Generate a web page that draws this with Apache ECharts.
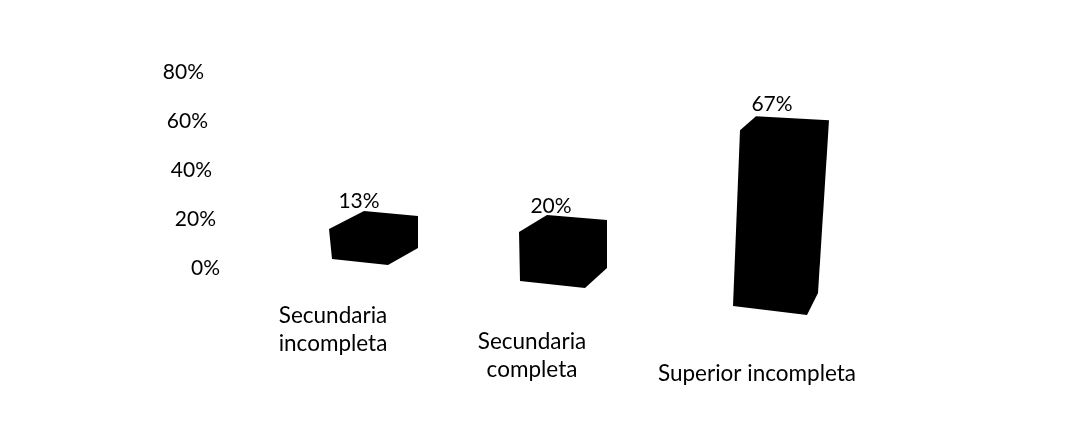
<!DOCTYPE html>
<html>
<head>
<meta charset="utf-8">
<style>html,body{margin:0;padding:0;background:#fff}#c{width:1085px;height:436px}</style>
<script src="https://cdn.jsdelivr.net/npm/echarts@6/dist/echarts.min.js"></script>
</head>
<body>
<div id="c"></div>
<script>
const categories = ['Secundaria\nincompleta', 'Secundaria\ncompleta', 'Superior incompleta'];
const values = [13, 20, 67];
const yTicks = [0, 20, 40, 60, 80];

// Camera of the skewed 3D scan: per-category projection, not data
const view = [
  {shift: -28, drop: -9, scale: 0.94, width: 56, lean: -3, slope: 6, back: [35, -18], tr: [33, -19], br: [30, -17], labelX: 30, labelY: -10},
  {shift: -45, drop: 13, scale: 1.00, width: 65, lean: -1, slope: 7, back: [28, -17], tr: [23, -19], br: [22, -20], labelX: 32, labelY: -9},
  {shift: -37, drop: 38, scale: 1.07, width: 74, lean: 7, slope: 9, back: [16, -14], tr: [15, -19], br: [11, -22], labelX: 32, labelY: -12}
];
const FONT = 'Lato, "Open Sans", sans-serif';
const INK = '#000';

function renderBar(params, api) {
  const i = api.value(0), v = api.value(1), p = view[i];
  const base = api.coord([i, 0]), top = api.coord([i, v]);
  const h = (base[1] - top[1]) * p.scale;
  const bl = [base[0] + p.shift, base[1] + p.drop];
  const fr = [bl[0] + p.width, bl[1] + p.slope];
  const lt = [bl[0] + p.lean, bl[1] - h];
  const ftr = [fr[0] + p.lean, fr[1] - h];
  const back = [lt[0] + p.back[0], lt[1] + p.back[1]];
  const tr = [ftr[0] + p.tr[0], ftr[1] + p.tr[1]];
  const br = [fr[0] + p.br[0], fr[1] + p.br[1]];
  return {
    type: 'group',
    children: [
      {type: 'polygon', shape: {points: [bl, lt, back, tr, br, fr]}, style: {fill: '#000'}},
      {type: 'text', style: {
        text: v + '%', x: lt[0] + p.labelX, y: back[1] + p.labelY,
        align: 'center', verticalAlign: 'middle',
        font: '21px ' + FONT, fill: INK
      }}
    ]
  };
}

const yPad = {0: 0, 20: 4, 40: 8, 60: 12, 80: 16};
const xTop = [0, 26, 58], xRight = [54, 66, 26];
const rich = {};
yTicks.forEach(t => { rich['y' + t] = {fontFamily: FONT, fontSize: 21, color: INK, padding: [0, yPad[t], 0, 0]}; });
categories.forEach((c, i) => {
  rich['s' + i] = {fontSize: 4, lineHeight: xTop[i]};
  rich['a' + i] = {fontFamily: FONT, fontSize: 22.5, color: INK, lineHeight: 28, padding: [0, xRight[i], 0, 0]};
});

const chart = echarts.init(document.getElementById('c'), null, {renderer: 'canvas'});
chart.setOption({
  animation: false,
  backgroundColor: '#fff',
  grid: {left: 257.5, right: 212.5, top: 72, bottom: 168},
  xAxis: {
    type: 'category', data: categories,
    axisLine: {show: false}, axisTick: {show: false},
    axisLabel: {
      interval: 0, margin: 34, verticalAlign: 'top', rich,
      formatter: (val, idx) => {
        const lines = val.split('\n').map(l => '{a' + idx + '|' + l + '}');
        if (xTop[idx]) lines.unshift('{s' + idx + '| }');
        return lines.join('\n');
      }
    }
  },
  yAxis: {
    type: 'value', min: 0, max: 80, interval: 20,
    axisLine: {show: false}, axisTick: {show: false}, splitLine: {show: false},
    axisLabel: {margin: 37.5, rich, formatter: val => '{y' + val + '|' + val + '%}'}
  },
  series: [{
    type: 'custom',
    renderItem: renderBar,
    encode: {x: 0, y: 1},
    data: values.map((v, i) => [i, v])
  }]
});
</script>
</body>
</html>
